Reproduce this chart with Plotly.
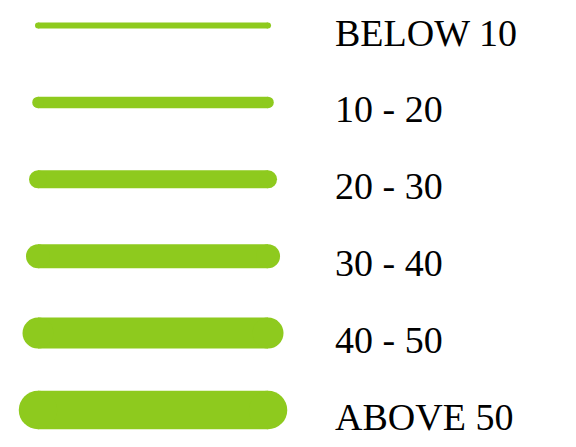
import plotly.graph_objects as go

labels = ["BELOW 10", "10 - 20", "20 - 30", "30 - 40", "40 - 50", "ABOVE 50"]
widths = [6, 11.5, 18, 24, 31, 38.5]
color = "#8ECA1E"

fig = go.Figure()
for i, (lab, w) in enumerate(zip(labels, widths)):
    fig.add_trace(go.Scatter(
        x=[0, 1], y=[i, i], mode="lines+markers",
        line=dict(color=color, width=w),
        marker=dict(color=color, size=w, line=dict(width=0)),
        hoverinfo="skip", showlegend=False,
    ))
    fig.add_annotation(
        x=1.283, y=i, text=lab, showarrow=False,
        xanchor="left", yanchor="middle", yshift=-7,
        font=dict(family="Liberation Serif", size=38, color="#000000"),
    )

fig.update_layout(
    width=560, height=431,
    margin=dict(l=0, r=0, t=0, b=0),
    paper_bgcolor="white", plot_bgcolor="white",
    xaxis=dict(range=[-0.1304, 2.304], visible=False, fixedrange=True),
    yaxis=dict(range=[5.377, -0.2276], visible=False, fixedrange=True),
)
fig.write_html("out.html")
